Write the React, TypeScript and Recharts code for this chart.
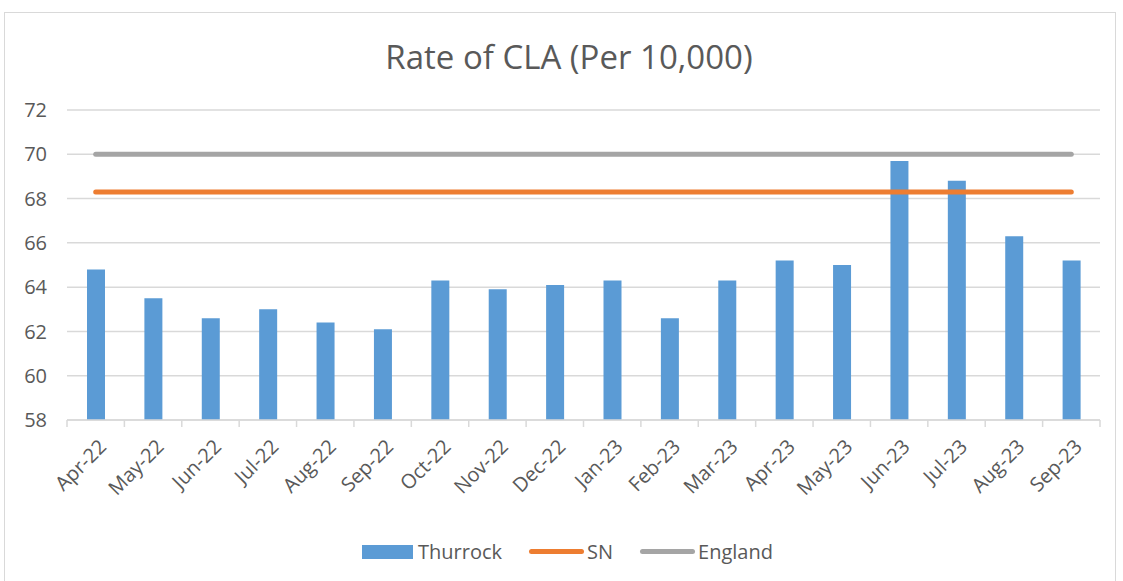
import { Bar, CartesianGrid, ComposedChart, Line, XAxis, YAxis } from "recharts";

const months = [
  "Apr-22", "May-22", "Jun-22", "Jul-22", "Aug-22", "Sep-22", "Oct-22", "Nov-22", "Dec-22",
  "Jan-23", "Feb-23", "Mar-23", "Apr-23", "May-23", "Jun-23", "Jul-23", "Aug-23", "Sep-23",
];
const thurrock = [64.8, 63.5, 62.6, 63.0, 62.4, 62.1, 64.3, 63.9, 64.1, 64.3, 62.6, 64.3, 65.2, 65.0, 69.7, 68.8, 66.3, 65.2];
const sn = months.map(() => 68.3);
const england = months.map(() => 70.0);
const yTicks = [58, 60, 62, 64, 66, 68, 70, 72];

const data = months.map((m, i) => ({ month: m, thurrock: thurrock[i], sn: sn[i], england: england[i] }));

const FONT = "'Open Sans', sans-serif";
const TEXT = "#595959";
const PLOT_LEFT = 67;
const PLOT_RIGHT = 1100;

function MonthTick(props: any) {
  const { x, y, payload, index } = props;
  const band = (PLOT_RIGHT - PLOT_LEFT) / months.length;
  const ax = x + 12;
  const ay = y + 20;
  return (
    <g>
      <line x1={x - band / 2} x2={x - band / 2} y1={y - 8} y2={y - 1} stroke="#d9d9d9" strokeWidth={1.5} />
      {index === months.length - 1 && (
        <line x1={x + band / 2} x2={x + band / 2} y1={y - 8} y2={y - 1} stroke="#d9d9d9" strokeWidth={1.5} />
      )}
      <text
        x={ax}
        y={ay}
        transform={`rotate(-45, ${ax}, ${ay})`}
        textAnchor="end"
        fill={TEXT}
        fontSize={20}
        fontFamily={FONT}
      >
        {payload.value}
      </text>
    </g>
  );
}

function LegendRow() {
  return (
    <div
      style={{
        position: "absolute",
        left: 362,
        top: 538,
        display: "flex",
        alignItems: "center",
        fontFamily: FONT,
        fontSize: 20,
        color: TEXT,
        whiteSpace: "nowrap",
      }}
    >
      <span style={{ display: "inline-block", width: 51, height: 14, background: "#5b9bd5" }} />
      <span style={{ marginLeft: 5 }}>Thurrock</span>
      <span style={{ display: "inline-block", width: 55, height: 5, borderRadius: 3, background: "#ed7d31", marginLeft: 27 }} />
      <span style={{ marginLeft: 3 }}>SN</span>
      <span style={{ display: "inline-block", width: 55, height: 5, borderRadius: 3, background: "#a5a5a5", marginLeft: 27 }} />
      <span style={{ marginLeft: 3 }}>England</span>
    </div>
  );
}

export default function App() {
  return (
    <div style={{ position: "absolute", left: 0, top: 0, width: 1123, height: 581, background: "#fff", overflow: "hidden" }}>
      <div
        style={{
          position: "absolute",
          left: 4,
          top: 12,
          width: 1112,
          height: 600,
          border: "1px solid #d9d9d9",
          boxSizing: "border-box",
        }}
      />
      <div
        style={{
          position: "absolute",
          left: 0,
          top: 34,
          width: 1138,
          textAlign: "center",
          fontFamily: FONT,
          fontSize: 33,
          color: TEXT,
        }}
      >
        Rate of CLA (Per 10,000)
      </div>
      <div style={{ position: "absolute", left: 0, top: 0 }}>
        <ComposedChart
          width={1123}
          height={581}
          data={data}
          margin={{ top: 110, right: 1123 - PLOT_RIGHT, bottom: 0, left: 0 }}
        >
          <CartesianGrid vertical={false} stroke="#d9d9d9" strokeWidth={1.5} />
          <XAxis
            dataKey="month"
            interval={0}
            height={161}
            tick={<MonthTick />}
            tickLine={false}
            axisLine={{ stroke: "#d9d9d9", strokeWidth: 1.5 }}
          />
          <YAxis
            width={PLOT_LEFT}
            domain={[58, 72]}
            ticks={yTicks}
            axisLine={false}
            tickLine={false}
            tick={{ fill: TEXT, fontSize: 20, fontFamily: FONT, dx: -12 }}
          />
          <Bar dataKey="thurrock" name="Thurrock" fill="#5b9bd5" barSize={18} isAnimationActive={false} />
          <Line
            dataKey="sn"
            name="SN"
            stroke="#ed7d31"
            strokeWidth={5}
            strokeLinecap="round"
            dot={false}
            activeDot={false}
            isAnimationActive={false}
          />
          <Line
            dataKey="england"
            name="England"
            stroke="#a5a5a5"
            strokeWidth={5}
            strokeLinecap="round"
            dot={false}
            activeDot={false}
            isAnimationActive={false}
          />
        </ComposedChart>
      </div>
      <LegendRow />
    </div>
  );
}
